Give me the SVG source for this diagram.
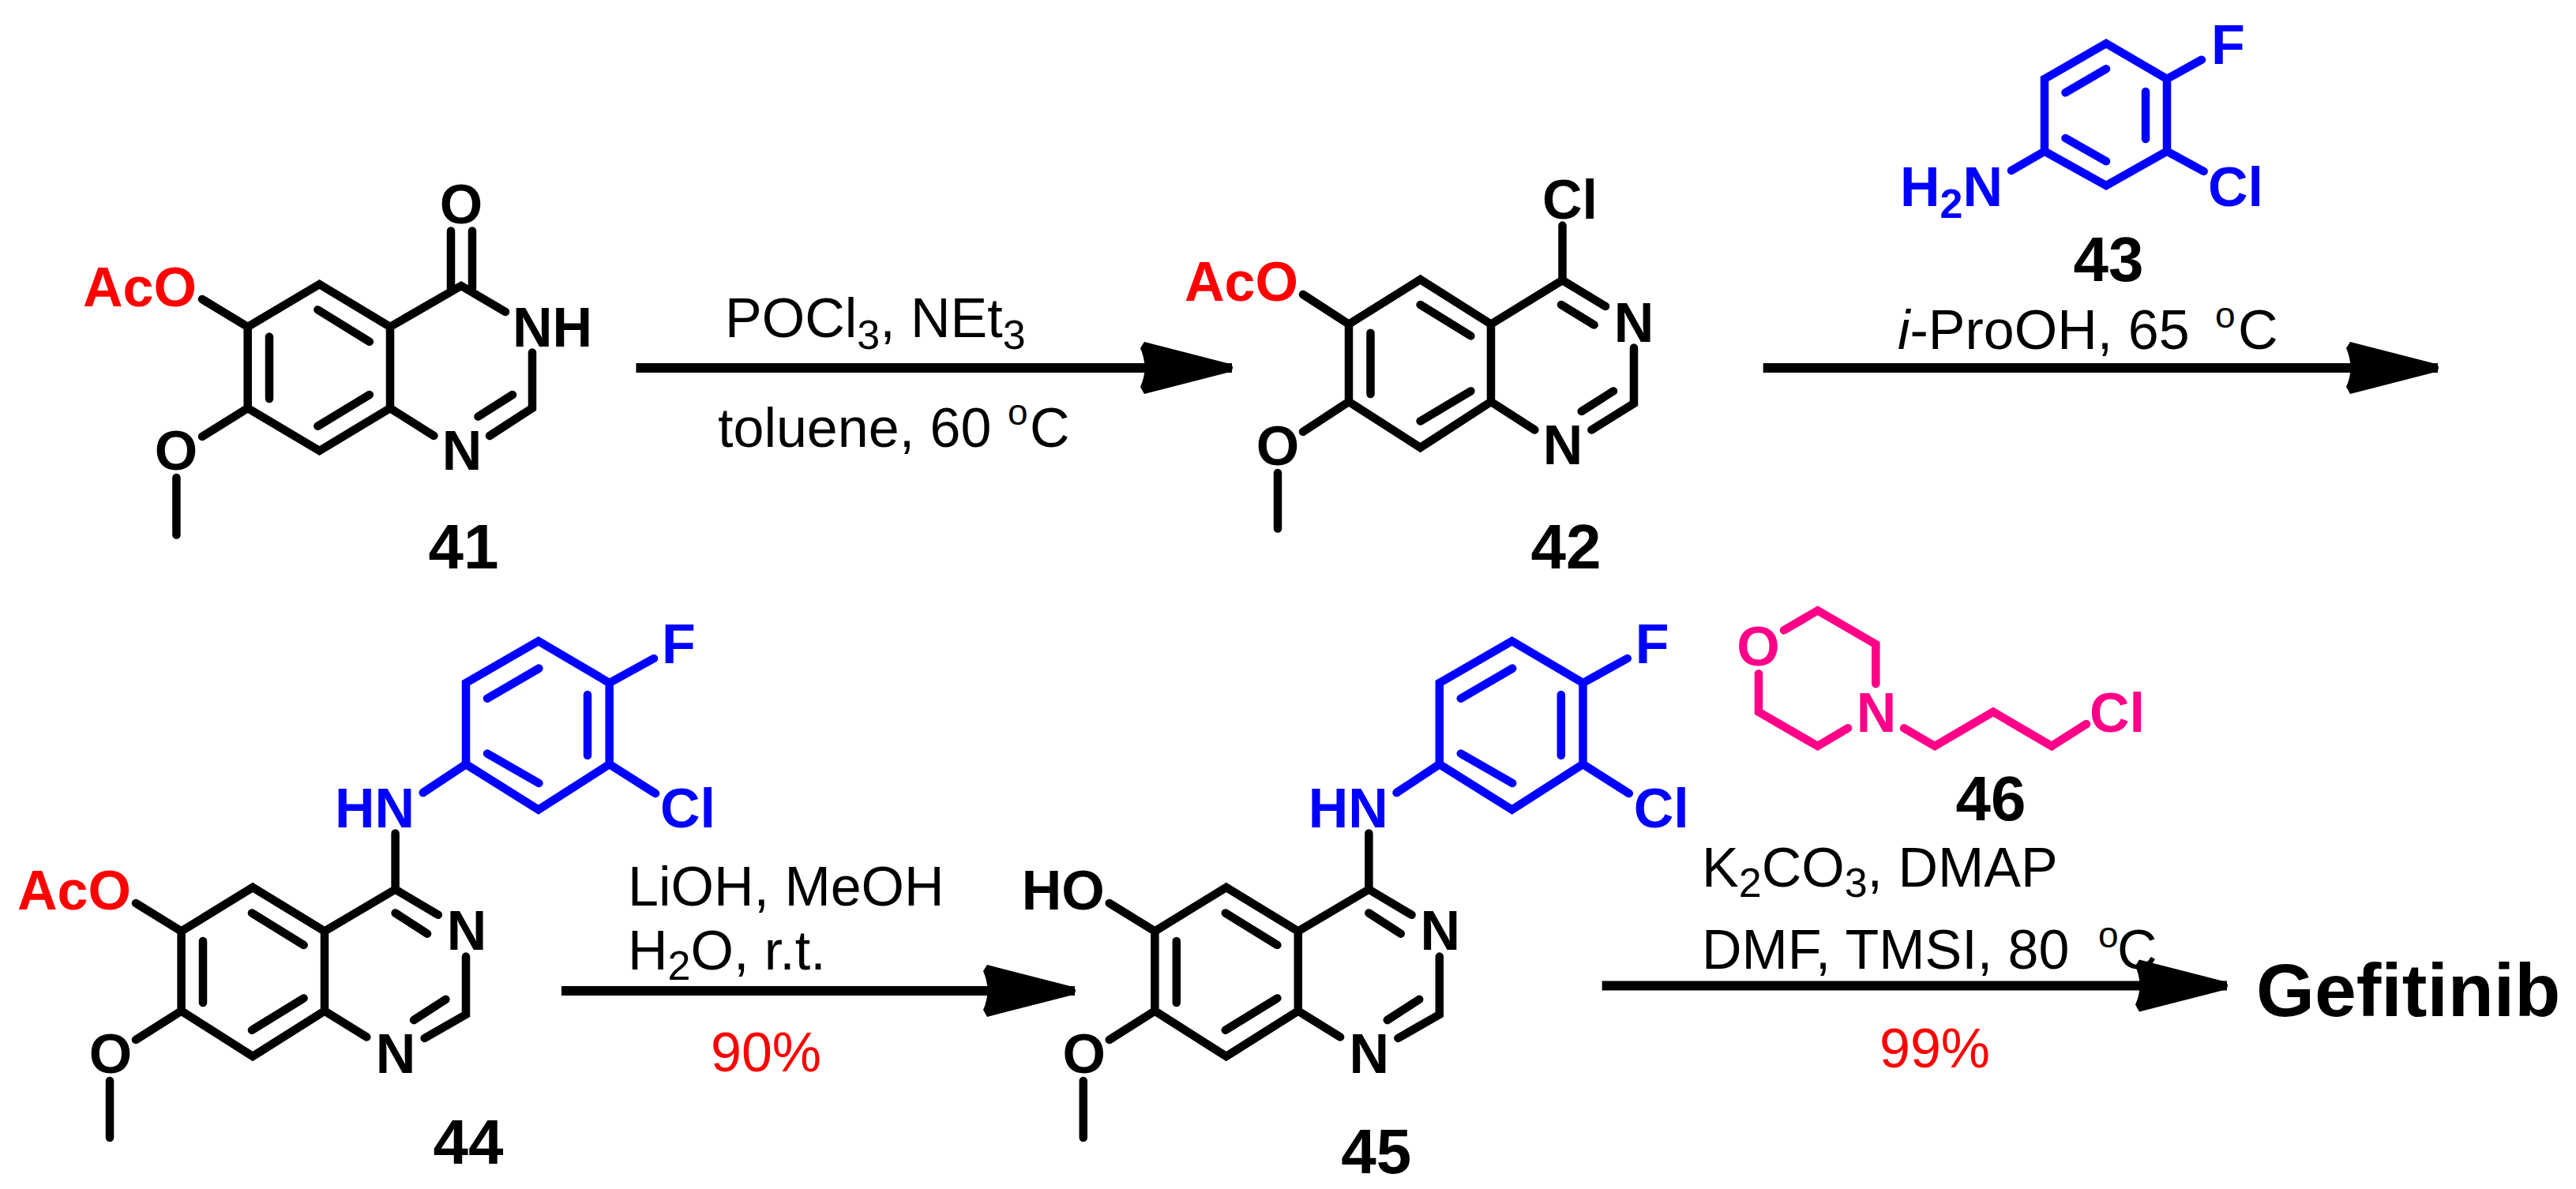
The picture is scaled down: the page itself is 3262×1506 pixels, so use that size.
<svg xmlns="http://www.w3.org/2000/svg" width="3262" height="1506" viewBox="0 0 3262 1506">
<style>
text{font-family:"Liberation Sans",Arial,sans-serif;white-space:pre}
.a{font-size:70px;font-weight:700}
.m{text-anchor:middle}
.r{font-size:70px}
.n{font-size:80px;font-weight:700;text-anchor:middle}
.sb{font-size:52px}
.sp{font-size:46px}
.red{fill:#f00}
.blue{fill:#00f}
.pink{fill:#ff0088}
.b{fill:none;stroke-width:10.5;stroke-linecap:round;stroke-linejoin:miter;stroke-miterlimit:10}
.k{stroke:#000}
.bl{stroke:#00f}
.pk{stroke:#ff0088}
.arrow{stroke:#000;stroke-width:12;fill:none;marker-end:url(#head)}
</style>
<defs>
<marker id="head" markerUnits="userSpaceOnUse" markerWidth="124" markerHeight="76" viewBox="0 0 124 76" refX="116" refY="38" orient="auto">
<path d="M5,5 L114,33 Q120,38 114,43 L5,71 L0,62 Q11,38 0,13 Z" fill="#000"/>
</marker>
</defs>
<rect width="3262" height="1506" fill="#fff"/>

<g id="compound-41">
<path class="b k" d="M313.7,414 L404.5,360 L494,414 L494,517 L404.5,571 L313.7,517 Z M256,379 L313.7,414 M494,414 L584,362 L640,395 M674,446.5 L674,517 L620,552 M494,517 L549.4,552 M256,553 L313.7,517 M223.4,605 L223.4,677.6 M341,426.6 L341,505 M402.4,392.4 L467.8,432.8 M402.4,539.7 L467.8,500 M605.5,527.6 L649,500 M571,292.4 L571,365 M598,292.4 L598,365"/>
<text class="a m" x="584" y="283">O</text>
<text class="a" x="649" y="439">NH</text>
<text class="a m" x="585" y="595">N</text>
<text class="a red" x="105" y="388">AcO</text>
<text class="a m" x="223" y="595">O</text>
<text class="n" x="587" y="720">41</text>
</g>

<g id="compound-42">
<path class="b k" d="M1708,410.6 L1798.6,354 L1888,410.6 L1888,508.8 L1798.6,567 L1708,508.8 Z M1650,373 L1708,410.6 M1888,410.6 L1978.5,355 L2033,388 M2069,440.5 L2069,511 L2015.4,544.5 M1888,508.8 L1943.4,544.5 M1650,546.8 L1708,508.8 M1618,599 L1618,669.5 M1735.5,421.8 L1735.5,499 M1798.6,386 L1862.4,425.4 M1798.6,533.4 L1862.4,495.4 M1977,386 L2018.6,411.5 M2002.7,521 L2043,495.4 M1978.5,285.6 L1978.5,355"/>
<text class="a" x="1953" y="277">Cl</text>
<text class="a m" x="2069" y="433">N</text>
<text class="a m" x="1979" y="588">N</text>
<text class="a red" x="1500" y="381">AcO</text>
<text class="a m" x="1618" y="589">O</text>
<text class="n" x="1983" y="720">42</text>
</g>

<g id="compound-43">
<path class="b bl" d="M2589,100 L2667,55 L2744,100 L2744,191.7 L2667,235 L2589,191.7 Z M2744,100 L2788,75.7 M2744,191.7 L2790.6,217 M2589,191.7 L2547,216 M2615.5,117.3 L2667,87.3 M2717,116 L2717,176 M2615.5,175 L2667,204.3"/>
<text class="a blue" x="2800" y="81">F</text>
<text class="a blue" x="2796" y="261">Cl</text>
<text class="a blue" x="2406" y="261">H<tspan class="sb" dy="15">2</tspan><tspan dy="-15">N</tspan></text>
<text class="n" x="2670" y="356">43</text>
</g>

<g id="compound-44">
<path class="b k" d="M229.6,1179.5 L320,1124 L411,1179.5 L411,1280.5 L320,1338 L229.6,1280.5 Z M172,1144 L229.6,1179.5 M411,1179.5 L500.6,1126.6 L554.8,1158.8 M590,1211.6 L590,1285 L537.6,1315 M411,1280.5 L464.3,1313.5 M172,1317 L229.6,1280.5 M139,1369 L139,1441 M257,1192 L257,1270 M319,1156.5 L384.6,1197 M319,1304.8 L384.6,1264.4 M500.6,1156.5 L541,1182.7 M524,1292 L564.4,1265.8 M500.6,1055.5 L500.6,1126.6"/>
<path class="b bl" d="M590,865 L681.8,812 L771.7,865 L771.7,968 L681.8,1025.6 L590,968 Z M771.7,865 L828,834 M771.7,968 L830,1005 M590,968 L535.7,1004 M617,884.7 L682.4,846.6 M744,880 L744,956.8 M617,954.5 L682.4,992"/>
<text class="a blue" x="838" y="840">F</text>
<text class="a blue" x="836" y="1048">Cl</text>
<text class="a blue" x="424" y="1048">HN</text>
<text class="a m" x="591" y="1203">N</text>
<text class="a m" x="501" y="1359">N</text>
<text class="a red" x="22" y="1152">AcO</text>
<text class="a m" x="140" y="1359">O</text>
<text class="n" x="593" y="1474">44</text>
</g>

<g id="compound-45" transform="translate(1232.8 0)">
<path class="b k" d="M229.6,1179.5 L320,1124 L411,1179.5 L411,1280.5 L320,1338 L229.6,1280.5 Z M172,1144 L229.6,1179.5 M411,1179.5 L500.6,1126.6 L554.8,1158.8 M590,1211.6 L590,1285 L537.6,1315 M411,1280.5 L464.3,1313.5 M172,1317 L229.6,1280.5 M139,1369 L139,1441 M257,1192 L257,1270 M319,1156.5 L384.6,1197 M319,1304.8 L384.6,1264.4 M500.6,1156.5 L541,1182.7 M524,1292 L564.4,1265.8 M500.6,1055.5 L500.6,1126.6"/>
<path class="b bl" d="M590,865 L681.8,812 L771.7,865 L771.7,968 L681.8,1025.6 L590,968 Z M771.7,865 L828,834 M771.7,968 L830,1005 M590,968 L535.7,1004 M617,884.7 L682.4,846.6 M744,880 L744,956.8 M617,954.5 L682.4,992"/>
<text class="a blue" x="838" y="840">F</text>
<text class="a blue" x="836" y="1048">Cl</text>
<text class="a blue" x="424" y="1048">HN</text>
<text class="a m" x="591" y="1203">N</text>
<text class="a m" x="501" y="1359">N</text>
<text class="a" x="61" y="1152">HO</text>
<text class="a m" x="140" y="1359">O</text>
<text class="n" x="510" y="1486">45</text>
</g>

<g id="compound-46">
<path class="b pk" d="M2227,853.3 L2227,901.7 L2301.7,945 L2340,922.3 M2411,922.3 L2450,945 L2524,901.7 L2598,945 L2642,917 M2375.3,866 L2375.3,816 L2301.7,773.3 L2259,798.3"/>
<text class="a m pink" x="2226.5" y="843">O</text>
<text class="a m pink" x="2376" y="927">N</text>
<text class="a pink" x="2646" y="927">Cl</text>
<text class="n" x="2521" y="1039">46</text>
</g>

<g id="product">
<text x="2857" y="1287" style="font-size:95px;font-weight:700">Gefitinib</text>
</g>

<g id="reagents">
<text class="r" x="918" y="427">POCl<tspan class="sb" dy="15">3</tspan><tspan dy="-15">, NEt</tspan><tspan class="sb" dy="15">3</tspan></text>
<text class="r" x="909" y="566">toluene, 60</text><text class="sp" x="1276" y="538">o</text><text class="r" x="1304" y="566">C</text>
<text class="r" x="2403" y="442"><tspan font-style="italic">i</tspan>-ProOH, 65</text><text class="sp" x="2805" y="415">o</text><text class="r" x="2834" y="442">C</text>
<text class="r" x="795" y="1147">LiOH, MeOH</text>
<text class="r" x="795" y="1228">H<tspan class="sb" dy="13">2</tspan><tspan dy="-13">O, r.t.</tspan></text>
<text class="r red" x="900" y="1357">90%</text>
<text class="r" x="2155" y="1123">K<tspan class="sb" dy="13">2</tspan><tspan dy="-13">CO</tspan><tspan class="sb" dy="13">3</tspan><tspan dy="-13">, DMAP</tspan></text>
<text class="r" x="2155" y="1227">DMF, TMSI, 80</text><text class="sp" x="2657" y="1200">o</text><text class="r" x="2681" y="1227">C</text>
<text class="r red" x="2380" y="1352">99%</text>
</g>

<g id="connectors">
<line class="arrow" x1="805.5" y1="466" x2="1560" y2="466"/>
<line class="arrow" x1="2232.7" y1="466" x2="3087" y2="466"/>
<line class="arrow" x1="711" y1="1255" x2="1361" y2="1255"/>
<line class="arrow" x1="2028.7" y1="1248.5" x2="2820" y2="1248.5"/>
</g>
</svg>
